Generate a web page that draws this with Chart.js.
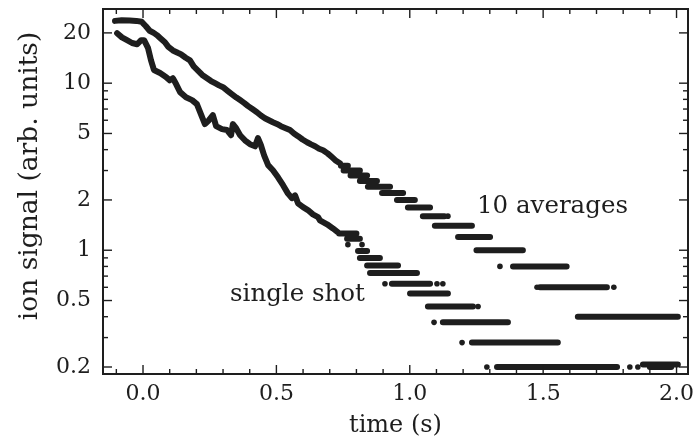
<!DOCTYPE html>
<html>
<head>
<meta charset="utf-8">
<script src="https://cdn.jsdelivr.net/npm/chart.js@4.4.1/dist/chart.umd.min.js"></script>
<style>
  body { margin: 0; background: #fff; }
  #wrap { width: 693px; height: 441px; }
</style>
</head>
<body>
<div id="wrap"><canvas id="decayChart" width="693" height="441"></canvas></div>
<script>
// 10 averages: continuous part (time in s, signal in arb. units)
const avgTime = [-0.105, -0.080, -0.050, -0.025, -0.005, 0.010, 0.025, 0.040, 0.052, 0.065,
    0.082, 0.095, 0.112, 0.130, 0.142, 0.160, 0.176, 0.190, 0.206, 0.222,
    0.240, 0.255, 0.270, 0.285, 0.300, 0.317, 0.334, 0.350, 0.364, 0.380,
    0.394, 0.410, 0.427, 0.442, 0.457, 0.472, 0.487, 0.502, 0.517, 0.535,
    0.551, 0.566, 0.581, 0.598, 0.615, 0.630, 0.645, 0.660, 0.675, 0.692,
    0.708, 0.722, 0.738];
const avgSignal = [23.6, 23.8, 23.7, 23.6, 23.3, 22.0, 20.6, 20.0, 19.4, 18.6,
    17.6, 16.5, 15.7, 15.2, 14.9, 14.2, 13.7, 12.6, 11.9, 11.2,
    10.7, 10.3, 10.0, 9.7, 9.46, 9.0, 8.58, 8.2, 7.92, 7.6,
    7.29, 7.0, 6.7, 6.4, 6.17, 6.0, 5.84, 5.7, 5.53, 5.38,
    5.24, 5.0, 4.82, 4.6, 4.43, 4.3, 4.19, 4.05, 3.97, 3.8,
    3.61, 3.45, 3.32];
// 10 averages: digitised levels (runs of points at one value)
const avgStepStart = [0.742, 0.752, 0.778, 0.813, 0.843, 0.896, 0.952, 0.993, 1.049, 1.094, 1.181, 1.250, 1.387, 1.488, 1.630];
const avgStepEnd   = [0.768, 0.813, 0.840, 0.877, 0.926, 0.975, 1.019, 1.076, 1.130, 1.233, 1.301, 1.424, 1.588, 1.739, 2.005];
const avgStepLevel = [3.2, 3.0, 2.8, 2.6, 2.4, 2.2, 2.0, 1.8, 1.6, 1.4, 1.2, 1.0, 0.8, 0.6, 0.4];
const avgDotTime   = [1.143, 1.338, 1.477, 1.765];
const avgDotSignal = [1.6, 0.8, 0.6, 0.6];

// single shot: continuous part
const singleTime = [-0.097, -0.079, -0.060, -0.041, -0.022, -0.007, 0.004, 0.019, 0.030, 0.041,
    0.064, 0.086, 0.100, 0.112, 0.124, 0.139, 0.161, 0.184, 0.202, 0.217,
    0.232, 0.247, 0.262, 0.274, 0.296, 0.315, 0.330, 0.337, 0.349, 0.364,
    0.382, 0.401, 0.420, 0.431, 0.442, 0.454, 0.469, 0.487, 0.506, 0.525,
    0.543, 0.558, 0.570, 0.581, 0.600, 0.618, 0.637, 0.656, 0.663, 0.690,
    0.712, 0.731];
const singleSignal = [19.9, 18.8, 18.1, 17.4, 17.1, 18.1, 18.1, 16.2, 13.7, 12.0,
    11.5, 10.9, 10.4, 10.7, 9.88, 8.84, 8.24, 7.92, 7.49, 6.52,
    5.69, 6.0, 6.43, 5.53, 5.31, 5.24, 4.88, 5.69, 5.38, 4.88,
    4.55, 4.31, 4.19, 4.69, 4.25, 3.7, 3.23, 3.01, 2.73, 2.45,
    2.19, 2.05, 2.13, 1.91, 1.81, 1.74, 1.64, 1.58, 1.51, 1.43,
    1.35, 1.28];
const singleStepStart = [0.735, 0.765, 0.806, 0.813, 0.840, 0.851, 0.933, 1.001, 1.068, 1.124, 1.233, 1.327, 1.900, 1.874];
const singleStepEnd   = [0.800, 0.813, 0.840, 0.888, 0.956, 1.027, 1.076, 1.143, 1.237, 1.368, 1.555, 1.777, 1.980, 2.005];
const singleStepLevel = [1.26, 1.17, 0.99, 0.90, 0.81, 0.73, 0.63, 0.55, 0.46, 0.37, 0.28, 0.20, 0.20, 0.207];
const singleDotTime   = [0.768, 0.821, 0.907, 1.102, 1.124, 1.256, 1.091, 1.196, 1.289, 1.825, 1.855];
const singleDotSignal = [1.08, 1.08, 0.63, 0.63, 0.63, 0.46, 0.37, 0.28, 0.20, 0.20, 0.20];

// axis ticks
const xLabelTicks = [0, 0.5, 1.0, 1.5, 2.0];
const xMinorTicks = [-0.1, 0.1, 0.2, 0.3, 0.4, 0.6, 0.7, 0.8, 0.9, 1.1, 1.2, 1.3, 1.4, 1.6, 1.7, 1.8, 1.9];
const yLabelTicks = [0.2, 0.5, 1, 2, 5, 10, 20];
const yMinorTicks = [0.3, 0.4, 0.6, 0.7, 0.8, 0.9, 3, 4, 6, 7, 8, 9];

const ink = '#1e1e1e';
const serif = '"DejaVu Serif", serif';

// continuous trace followed by the level runs, with a break between runs
function traceData(times, values, starts, ends, levels) {
    const pts = times.map((t, i) => ({x: t, y: values[i]}));
    starts.forEach((s, i) => {
        pts.push({x: s, y: null});
        pts.push({x: s, y: levels[i]});
        pts.push({x: ends[i], y: levels[i]});
    });
    return pts;
}

function dotData(times, values) {
    return times.map((t, i) => ({x: t, y: values[i]}));
}

const traceStyle = {
    showLine: true,
    spanGaps: false,
    borderColor: ink,
    borderWidth: 6,
    borderCapStyle: 'round',
    borderJoinStyle: 'round',
    pointRadius: 0,
    tension: 0
};
const dotStyle = {
    showLine: false,
    backgroundColor: ink,
    borderWidth: 0,
    pointRadius: 2.8
};

// frame, inward ticks, labels on the plot
const framePlugin = {
    id: 'framePlugin',
    afterDraw(chart) {
        const ctx = chart.ctx;
        const a = chart.chartArea;
        const x = chart.scales.x, y = chart.scales.y;
        ctx.save();
        ctx.strokeStyle = ink;
        ctx.lineWidth = 2;
        ctx.strokeRect(a.left, a.top, a.right - a.left, a.bottom - a.top);

        ctx.lineWidth = 1.4;
        function seg(x1, y1, x2, y2) {
            ctx.beginPath(); ctx.moveTo(x1, y1); ctx.lineTo(x2, y2); ctx.stroke();
        }
        function xTicks(list, len) {
            list.forEach(v => {
                const p = x.getPixelForValue(v);
                seg(p, a.bottom, p, a.bottom - len);
                seg(p, a.top, p, a.top + len);
            });
        }
        function yTicks(list, len) {
            list.forEach(v => {
                const p = y.getPixelForValue(v);
                seg(a.left, p, a.left + len, p);
                seg(a.right, p, a.right - len, p);
            });
        }
        xTicks(xLabelTicks, 9);
        xTicks(xMinorTicks, 5);
        yTicks(yLabelTicks, 9);
        yTicks(yMinorTicks, 5);

        ctx.fillStyle = ink;
        ctx.font = '24.5px ' + serif;
        ctx.textBaseline = 'alphabetic';
        ctx.textAlign = 'left';
        ctx.fillText('10 averages', x.getPixelForValue(1.252), y.getPixelForValue(1.666));
        ctx.fillText('single shot', x.getPixelForValue(0.326), y.getPixelForValue(0.5));

        ctx.translate(30, 176);
        ctx.rotate(-Math.PI / 2);
        ctx.textAlign = 'center';
        ctx.textBaseline = 'middle';
        ctx.font = '26.5px ' + serif;
        ctx.fillText('ion signal (arb. units)', 0, 0);
        ctx.restore();
    }
};

new Chart(document.getElementById('decayChart').getContext('2d'), {
    type: 'scatter',
    data: {
        datasets: [
            Object.assign({label: '10 averages', data: traceData(avgTime, avgSignal, avgStepStart, avgStepEnd, avgStepLevel)}, traceStyle),
            Object.assign({label: '10 averages dots', data: dotData(avgDotTime, avgDotSignal)}, dotStyle),
            Object.assign({label: 'single shot', data: traceData(singleTime, singleSignal, singleStepStart, singleStepEnd, singleStepLevel)}, traceStyle),
            Object.assign({label: 'single shot dots', data: dotData(singleDotTime, singleDotSignal)}, dotStyle)
        ]
    },
    options: {
        responsive: false,
        animation: false,
        layout: { padding: { top: 9, right: 5, left: 0, bottom: 0 } },
        plugins: {
            legend: { display: false },
            tooltip: { enabled: false }
        },
        scales: {
            x: {
                type: 'linear',
                min: -0.15,
                max: 2.043,
                grid: { display: false, drawTicks: false },
                border: { display: false },
                afterBuildTicks: function(scale) {
                    scale.ticks = xLabelTicks.map(v => ({value: v}));
                },
                afterFit: function(scale) {
                    scale.height = 67;
                    scale.paddingLeft = 0;
                    scale.paddingRight = 0;
                },
                ticks: {
                    padding: 7,
                    maxRotation: 0,
                    autoSkip: false,
                    color: ink,
                    font: { family: serif, size: 22 },
                    callback: function(value) { return Number(value).toFixed(1); }
                },
                title: {
                    display: true,
                    text: 'time (s)',
                    color: ink,
                    font: { family: serif, size: 24 },
                    padding: { top: 0, bottom: 1 }
                }
            },
            y: {
                type: 'logarithmic',
                min: 0.1816,
                max: 27.8,
                grid: { display: false, drawTicks: false },
                border: { display: false },
                afterBuildTicks: function(scale) {
                    scale.ticks = yLabelTicks.map(v => ({value: v}));
                },
                afterFit: function(scale) {
                    scale.width = 103;
                    scale.paddingTop = 0;
                    scale.paddingBottom = 0;
                },
                ticks: {
                    padding: 12,
                    autoSkip: false,
                    color: ink,
                    font: { family: serif, size: 22 },
                    callback: function(value) { return String(value); }
                }
            }
        }
    },
    plugins: [framePlugin]
});
</script>
</body>
</html>
